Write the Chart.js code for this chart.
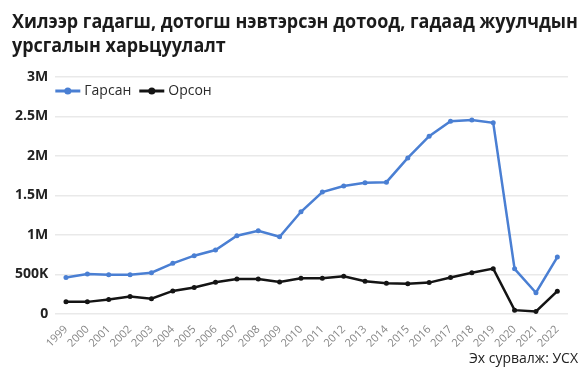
<!DOCTYPE html>
<html>
<head>
<meta charset="utf-8">
<script src="https://cdn.jsdelivr.net/npm/chart.js@4/dist/chart.umd.min.js"></script>
<style>
  html, body { margin: 0; padding: 0; background: #fff; }
  #wrap { position: relative; width: 584px; height: 374px; overflow: hidden; font-family: "Open Sans", sans-serif; }
  #title { position: absolute; left: 12px; top: 9px; font-size: 19px; font-weight: 700; line-height: 24px; color: #1b1b1b; white-space: nowrap; transform-origin: 0 0; }
  #source { position: absolute; right: 6px; top: 348px; font-size: 14px; color: #222; }
  #chartBox { position: absolute; left: 0; top: 0; width: 584px; height: 374px; }
</style>
</head>
<body>
<div id="wrap">
  <div id="chartBox"><canvas id="chart"></canvas></div>
  <div id="title">Хилээр гадагш, дотогш нэвтэрсэн дотоод, гадаад жуулчдын<br>урсгалын харьцуулалт</div>
  <div id="source">Эх сурвалж: УСХ</div>
</div>
<script>
"use strict";

const years = [
  "1999", "2000", "2001", "2002", "2003", "2004", "2005", "2006",
  "2007", "2008", "2009", "2010", "2011", "2012", "2013", "2014",
  "2015", "2016", "2017", "2018", "2019", "2020", "2021", "2022",
];

// Гарсан (departures)
const outbound = [
  460000, 505000, 497000, 497000, 522000, 640000, 737000, 809000,
  990000, 1053000, 977000, 1293000, 1542000, 1620000, 1660000, 1668000,
  1975000, 2250000, 2440000, 2455000, 2420000, 570000, 268000, 720000,
];

// Орсон (arrivals)
const inbound = [
  152000, 152000, 181000, 219000, 193000, 291000, 333000, 400000,
  442000, 442000, 405000, 451000, 451000, 476000, 413000, 388000,
  383000, 396000, 460000, 522000, 573000, 47000, 30000, 287000,
];

const yTicks = [0, 500000, 1000000, 1500000, 2000000, 2500000, 3000000];
const tickLabels = ["0", "500K", "1M", "1.5M", "2M", "2.5M", "3M"];

const BLUE = "#4a7fd3";
const BLACK = "#141414";

// squeeze the title so the first line spans the same width as the original
const titleEl = document.getElementById("title");
const titleWidth = titleEl.getBoundingClientRect().width;
titleEl.style.transform = `scaleX(${566 / titleWidth})`;

function makeDataset(label, data, color) {
  return {
    label,
    data,
    borderColor: color,
    backgroundColor: color,
    borderWidth: 2.5,
    pointRadius: 2.5,
    pointBackgroundColor: color,
    pointBorderWidth: 0,
    tension: 0,
  };
}

// line + dot legend drawn inside the plot, like the original
const innerLegend = {
  id: "innerLegend",
  afterDraw(chart) {
    const { ctx, chartArea } = chart;
    let x = chartArea.left;
    const y = chartArea.top + 14;
    ctx.save();
    ctx.font = '14px "Open Sans"';
    ctx.textBaseline = "middle";
    chart.data.datasets.forEach((ds) => {
      ctx.strokeStyle = ds.borderColor;
      ctx.fillStyle = ds.borderColor;
      ctx.lineWidth = 3;
      ctx.beginPath();
      ctx.moveTo(x, y);
      ctx.lineTo(x + 25, y);
      ctx.stroke();
      ctx.beginPath();
      ctx.arc(x + 12.5, y, 3.5, 0, Math.PI * 2);
      ctx.fill();
      ctx.fillStyle = "#2a2a2a";
      ctx.fillText(ds.label, x + 29, y);
      x += 29 + ctx.measureText(ds.label).width + 8;
    });
    ctx.restore();
  },
};

new Chart(document.getElementById("chart"), {
  type: "line",
  data: {
    labels: years,
    datasets: [
      makeDataset("Гарсан", outbound, BLUE),
      makeDataset("Орсон", inbound, BLACK),
    ],
  },
  plugins: [innerLegend],
  options: {
    responsive: true,
    maintainAspectRatio: false,
    animation: false,
    layout: { padding: { top: 77, right: 16, bottom: 23, left: 8 } },
    plugins: {
      tooltip: { enabled: false },
      legend: { display: false },
    },
    scales: {
      x: {
        offset: true,
        grid: { display: false },
        border: { display: false },
        ticks: {
          color: "#858585",
          font: { family: "Open Sans", size: 11 },
          minRotation: 45,
          maxRotation: 45,
          autoSkip: false,
          padding: 1,
        },
      },
      y: {
        min: 0,
        max: 3000000,
        afterBuildTicks(scale) {
          scale.ticks = yTicks.map((v) => ({ value: v }));
        },
        grid: { color: "#e9e9e9", lineWidth: 1.5, drawTicks: false },
        border: { display: false },
        ticks: {
          color: "#222",
          font: { family: "Open Sans", size: 14, weight: "bold" },
          padding: 7,
          callback(value) {
            const i = yTicks.indexOf(value);
            return i >= 0 ? tickLabels[i] : "";
          },
        },
      },
    },
  },
});
</script>
</body>
</html>
